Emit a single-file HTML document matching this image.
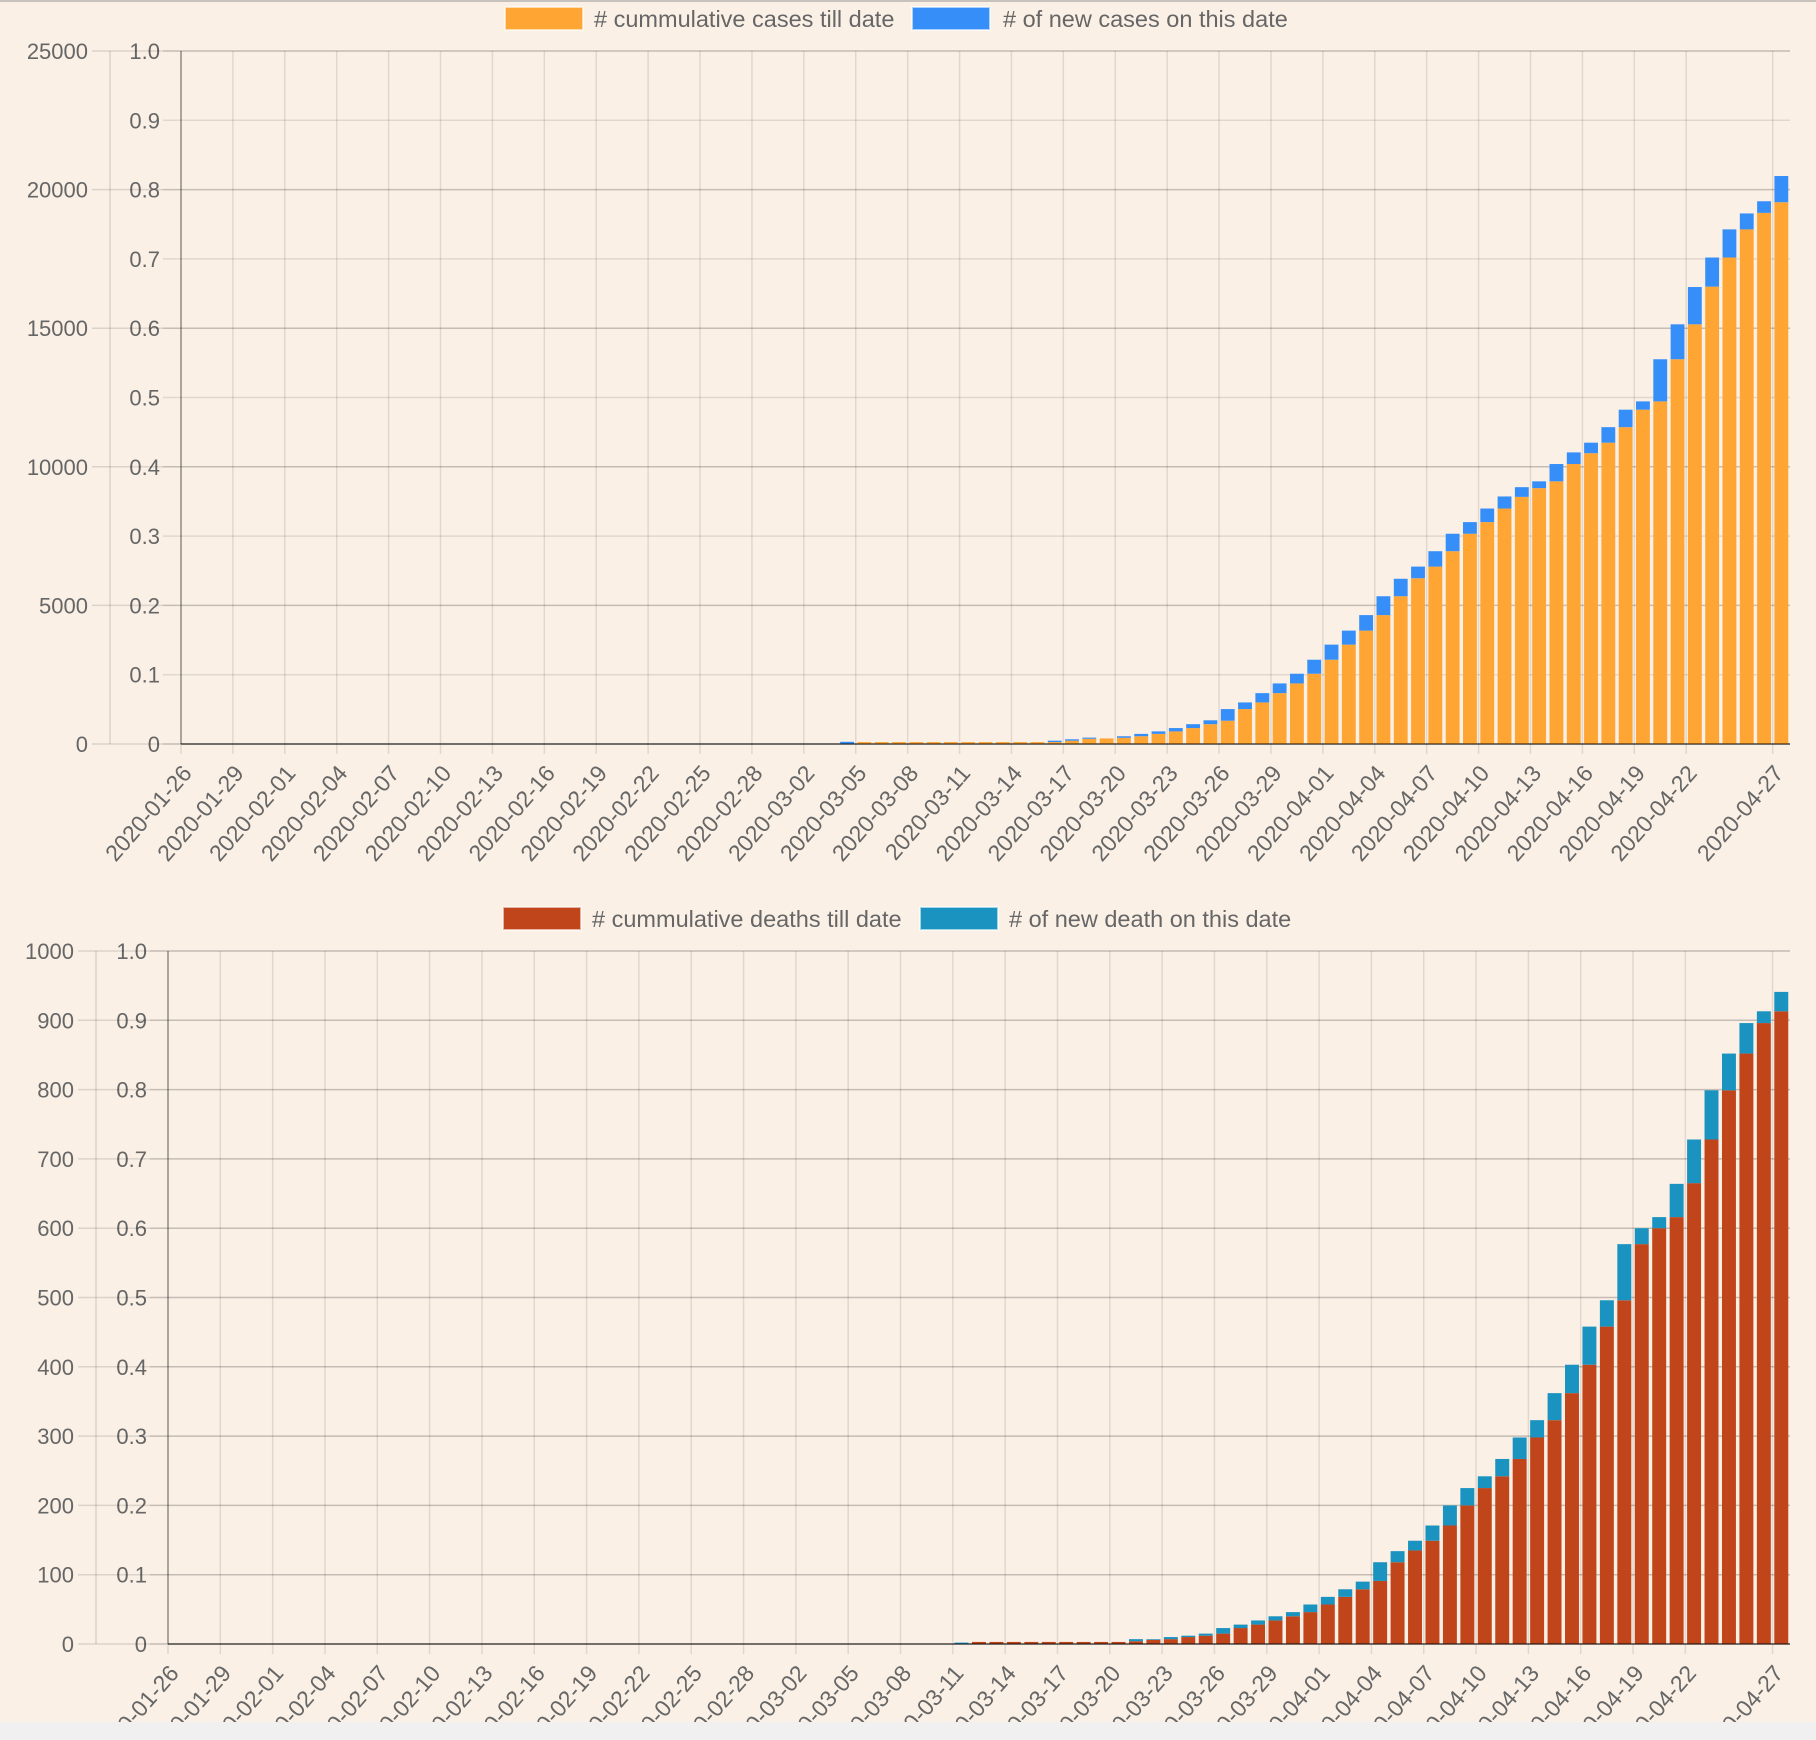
<!DOCTYPE html>
<html><head><meta charset="utf-8">
<style>
html,body{margin:0;padding:0;background:#faf0e6;}
body{width:1816px;height:1740px;overflow:hidden;position:relative;font-family:"Liberation Sans",sans-serif;}
svg{position:absolute;left:0;top:0;}
</style></head>
<body>
<svg id="chart" width="1816" height="1740"></svg>
<script>
const dates = [];
(function(){const d=new Date(Date.UTC(2020,0,26));for(let i=0;i<93;i++){const t=new Date(d.getTime()+i*86400000);dates.push(t.toISOString().slice(0,10));}})();
const tickIdx = [0,3,6,9,12,15,18,21,24,27,30,33,36,39,42,45,48,51,54,57,60,63,66,69,72,75,78,81,84,87,92];
const casesCum = new Array(38).fill(0).concat([0,70,70,70,70,70,70,70,70,70,70,70,
 70,120,190,200,225,280,365,455,575,715,840,1260,1500,1835,2185,2535,
 3040,3585,4090,4650,5330,5980,6400,6955,7585,8005,8495,8915,9230,9475,10100,10490,10870,11430,12060,12360,13880,15140,16500,17550,18565,19160,19545]);
const casesNew = new Array(38).fill(0).concat([80,0,0,0,0,0,0,0,0,0,0,0,
 50,50,40,0,55,85,90,120,140,140,420,240,335,350,350,505,
 545,505,560,680,630,420,555,630,420,490,435,350,245,625,420,380,560,630,300,1520,1260,1345,1050,1015,575,420,945]);
const deathsCum = new Array(45).fill(0).concat([0,3,3,3,3,3,3,3,3,3,4,6,7,10,12,15,23,28,34,40,46,
 57,68,79,91,118,135,149,171,200,225,242,267,298,323,362,403,458,496,577,600,616,665,728,799,852,896,913]);
const deathsNew = new Array(45).fill(0).concat([2,0,0,0,0,0,0,0,0,0,3,1,3,2,3,8,5,6,6,6,11,
 11,11,11,27,16,14,22,29,25,17,25,31,25,39,41,55,38,81,23,16,48,63,71,53,44,17,28]);
const casesTicks = [0,5000,10000,15000,20000,25000];
const deathTicks = [0,100,200,300,400,500,600,700,800,900,1000];
const ratioTicks = ["0","0.1","0.2","0.3","0.4","0.5","0.6","0.7","0.8","0.9","1.0"];

const NS="http://www.w3.org/2000/svg";
const svg=document.getElementById('chart');
function mk(tag,attrs,parent){const e=document.createElementNS(NS,tag);for(const k in attrs)e.setAttribute(k,attrs[k]);(parent||svg).appendChild(e);return e;}

const tb=mk('rect',{x:0,y:0,width:1816,height:2,fill:'#c8c2bc'});



function drawChart(o){
  const g=mk('g',{});
  
  
  const n=dates.length, cw=(o.R-o.L)/n;
  const xc=i=>o.L+i*cw;
  const y=v=>o.B-(v/o.max)*(o.B-o.T);
  for(let k=0;k<=10;k++){
    const yy=o.B-k/10*(o.B-o.T);
    const l=mk('line',{x1:o.axis2-18,x2:o.R,y1:yy,y2:yy,stroke:'rgba(0,0,0,0.1)','stroke-width':1.5},g);
    
    
    const t=mk('text',{x:o.axis2-21,y:yy+8,'text-anchor':'end','font-size':22,fill:'#666'},g);
    t.textContent=ratioTicks[k];
    
    
  }
  o.ticks.forEach(v=>{
    const yy=y(v);
    const l=mk('line',{x1:o.axis1-18,x2:o.R,y1:yy,y2:yy,stroke:'rgba(0,0,0,0.12)','stroke-width':1.5},g);
    
    
    const t=mk('text',{x:o.axis1-22,y:yy+8,'text-anchor':'end','font-size':22,fill:'#666'},g);
    t.textContent=String(v);
    
    
  });
  const a1=mk('line',{x1:o.axis1,x2:o.axis1,y1:o.T,y2:o.B,stroke:'rgba(0,0,0,0.12)','stroke-width':1.5},g);
  
  
  tickIdx.forEach(i=>{
    const xx=xc(i);
    const l=mk('line',{x1:xx,x2:xx,y1:o.T,y2:o.B+10,stroke:'rgba(0,0,0,0.1)','stroke-width':1.5},g);
    
    
    const ax=xx+12, ay=o.B+30;
    const t=mk('text',{x:ax,y:ay,'text-anchor':'end','font-size':23,fill:'#666',transform:`rotate(-49 ${ax} ${ay})`},g);
    t.textContent=dates[i];
    
    
  });
  const bw=cw*0.8;
  for(let i=0;i<n;i++){
    const x0=xc(i)+(cw-bw)/2;
    const c=o.cum[i], nw=o.nw[i];
    if(c>0){
      const r=mk('rect',{x:x0,y:y(c),width:bw,height:o.B-y(c),fill:o.c1},g);
      
      
    }
    if(nw>0){
      const r=mk('rect',{x:x0,y:y(c+nw),width:bw,height:y(c)-y(c+nw),fill:o.c2},g);
      
      
    }
  }
  const ax=mk('line',{x1:o.L,x2:o.L,y1:o.T,y2:o.B,stroke:'rgba(0,0,0,0.35)','stroke-width':1.5},g);
  
  
  const bx=mk('line',{x1:o.L,x2:o.R,y1:o.B,y2:o.B,stroke:'rgba(0,0,0,0.45)','stroke-width':2},g);
  
  
  o.legend.forEach(it=>{
    const r=mk('rect',{x:it.bx,y:o.ly,width:78,height:23,fill:it.c,stroke:'rgba(255,255,255,0.6)','stroke-width':2},g);
    
    
    const t=mk('text',{x:it.tx,y:o.ly+20,'font-size':23.5,fill:'#666'},g);
    t.textContent=it.label;
    
    
  });
}
drawChart({name:'cases-chart',L:181,R:1790,T:51,B:744,max:25000,axis1:110,axis2:181,ticks:casesTicks,
  cum:casesCum,nw:casesNew,c1:'#ffa534',c2:'#368ef8',ly:7,
  legend:[{bx:505,tx:594,c:'#ffa534',label:'# cummulative cases till date'},{bx:912,tx:1003,c:'#368ef8',label:'# of new cases on this date'}]});
drawChart({name:'deaths-chart',L:168,R:1790,T:951,B:1644,max:1000,axis1:96,axis2:168,ticks:deathTicks,
  cum:deathsCum,nw:deathsNew,c1:'#c0451b',c2:'#1b93c0',ly:907,
  legend:[{bx:503,tx:592,c:'#c0451b',label:'# cummulative deaths till date'},{bx:920,tx:1009,c:'#1b93c0',label:'# of new death on this date'}]});
const band=mk('rect',{x:0,y:1722,width:1816,height:18,fill:'#f0f0f0'});


</script>
</body></html>
